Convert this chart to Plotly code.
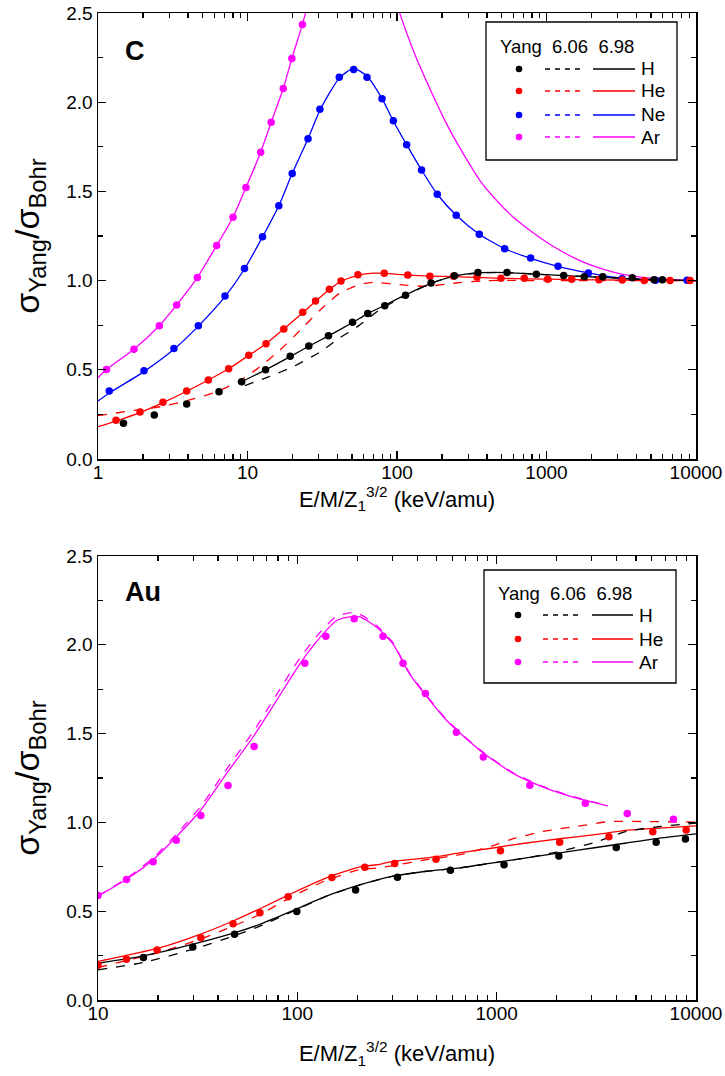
import plotly.graph_objects as go
from plotly.subplots import make_subplots

# ---------------- Panel C ----------------
C_H_pts_E = [1.48, 2.38, 3.92, 6.45, 9.14, 13.2, 19.3, 25.7, 34.8, 50.4, 63.7, 82.8, 114, 169, 242, 348, 544, 855, 1303, 1790, 2377, 3750, 5240, 5960]
C_H_pts_y = [0.20, 0.247, 0.308, 0.377, 0.433, 0.50, 0.576, 0.633, 0.691, 0.766, 0.815, 0.859, 0.918, 0.987, 1.027, 1.046, 1.046, 1.036, 1.029, 1.022, 1.022, 1.016, 1.005, 1.005]
C_H_fit_E = [9.14, 13.2, 19.3, 25.7, 34.8, 50.4, 63.7, 82.8, 114, 169, 242, 348, 544, 855, 1303, 2377, 3750, 6000, 10000]
C_H_fit_y = [0.433, 0.50, 0.574, 0.632, 0.69, 0.765, 0.815, 0.862, 0.92, 0.985, 1.025, 1.043, 1.045, 1.036, 1.028, 1.018, 1.010, 1.004, 1.0]
C_H_dash_E = [9.6, 13.4, 20.2, 30.6, 41.5, 55, 77.6, 114, 169, 242, 348, 544, 855, 1303, 2377, 3750, 6000, 10000]
C_H_dash_y = [0.412, 0.456, 0.518, 0.60, 0.68, 0.745, 0.84, 0.915, 0.985, 1.025, 1.043, 1.045, 1.036, 1.028, 1.018, 1.010, 1.004, 1.0]

C_He_pts_E = [1.32, 1.91, 2.72, 3.92, 5.47, 7.48, 10.2, 13.3, 17.5, 23.4, 28.5, 35.3, 42.2, 54.8, 82.2, 118, 166, 239, 343, 496, 710, 1018, 1475, 2244, 3213, 4508, 6700, 9120]
C_He_pts_y = [0.217, 0.263, 0.318, 0.381, 0.443, 0.506, 0.581, 0.646, 0.729, 0.822, 0.886, 0.951, 0.998, 1.033, 1.041, 1.031, 1.024, 1.025, 1.020, 1.013, 1.013, 1.007, 1.007, 1.005, 1.003, 1.001, 1.0, 1.0]
C_He_fit_E = [1, 1.32, 1.91, 2.72, 3.92, 5.47, 7.48, 10.2, 13.3, 17.5, 23.4, 28.5, 35.3, 42.2, 54.8, 70, 82.2, 118, 166, 239, 343, 496, 1018, 2244, 4508, 10000]
C_He_fit_y = [0.181, 0.213, 0.26, 0.316, 0.38, 0.443, 0.506, 0.581, 0.646, 0.729, 0.82, 0.884, 0.95, 0.996, 1.03, 1.042, 1.041, 1.031, 1.025, 1.022, 1.018, 1.013, 1.008, 1.004, 1.002, 1.0]
C_He_dash_E = [1, 1.56, 2.6, 3.92, 6.22, 8.9, 12.1, 16.5, 22.4, 30.6, 41.5, 56.5, 69, 104.7, 158, 236, 400, 1000, 10000]
C_He_dash_y = [0.243, 0.267, 0.293, 0.327, 0.377, 0.439, 0.517, 0.611, 0.72, 0.835, 0.93, 0.978, 0.99, 0.977, 0.968, 0.985, 1.0, 1.0, 1.0]

C_Ne_pts_E = [1.19, 2.03, 3.22, 4.69, 7.07, 9.55, 12.6, 16.2, 19.9, 25.4, 30.5, 41.1, 51.3, 63.0, 79.4, 94.5, 116, 146, 186, 249, 355, 525, 783, 1194, 1906, 3200, 5375, 8720]
C_Ne_pts_y = [0.381, 0.495, 0.620, 0.747, 0.914, 1.068, 1.246, 1.42, 1.60, 1.795, 1.96, 2.14, 2.184, 2.14, 2.02, 1.896, 1.762, 1.62, 1.484, 1.366, 1.26, 1.179, 1.127, 1.081, 1.043, 1.011, 1.002, 1.002]
C_Ne_fit_E = [1, 1.19, 2.03, 3.22, 4.69, 7.07, 9.55, 12.6, 16.2, 19.9, 25.4, 30.5, 41.1, 51.3, 63.0, 79.4, 94.5, 116, 146, 186, 249, 355, 525, 783, 1194, 1906, 3200, 5375, 10000]
C_Ne_fit_y = [0.325, 0.37, 0.49, 0.615, 0.745, 0.91, 1.065, 1.245, 1.42, 1.60, 1.795, 1.955, 2.135, 2.19, 2.145, 2.02, 1.895, 1.762, 1.62, 1.484, 1.366, 1.26, 1.179, 1.125, 1.08, 1.043, 1.013, 1.004, 1.0]

C_Ar_pts_E = [1.14, 1.74, 2.57, 3.36, 4.62, 6.22, 8.0, 9.77, 12.25, 14.4, 17.35, 19.8, 23.3]
C_Ar_pts_y = [0.502, 0.615, 0.747, 0.864, 1.017, 1.197, 1.355, 1.522, 1.72, 1.888, 2.077, 2.245, 2.436]
C_Ar_fit_E = [1, 1.14, 1.74, 2.57, 3.36, 4.62, 6.22, 8.0, 9.77, 12.25, 14.4, 17.35, 19.8, 23.3, 25.5,
              None,
              100, 104.7, 128.5, 166, 215, 278, 359, 464, 600, 776, 1003, 1296, 1675, 2167, 2798, 3620, 6000, 10000]
C_Ar_fit_y = [0.456, 0.502, 0.615, 0.747, 0.864, 1.017, 1.197, 1.355, 1.522, 1.72, 1.888, 2.077, 2.245, 2.436, 2.56,
              None,
              2.55, 2.495, 2.29, 2.075, 1.877, 1.71, 1.561, 1.449, 1.355, 1.281, 1.215, 1.159, 1.112, 1.075, 1.047, 1.028, 1.008, 1.0]

# ---------------- Panel Au ----------------
Au_H_pts_E = [16.9, 29.9, 48.4, 99.4, 196, 318, 586, 1089, 2051, 3981, 6310, 8850]
Au_H_pts_y = [0.239, 0.299, 0.370, 0.499, 0.619, 0.691, 0.730, 0.761, 0.811, 0.859, 0.889, 0.907]
Au_H_fit_E = [10, 16.9, 30.0, 47.7, 64.9, 95.3, 140, 205.8, 302, 444, 652, 958, 1409, 2070, 3041, 4467, 6561, 10000]
Au_H_fit_y = [0.207, 0.248, 0.314, 0.376, 0.426, 0.504, 0.585, 0.648, 0.697, 0.725, 0.744, 0.772, 0.80, 0.828, 0.856, 0.884, 0.912, 0.936]
Au_H_dash_E = [10, 16.9, 30.0, 47.7, 64.9, 95.3, 140, 205.8, 302, 444, 652, 958, 1409, 2070, 3041, 4467, 6561, 10000]
Au_H_dash_y = [0.17, 0.211, 0.286, 0.36, 0.416, 0.50, 0.585, 0.648, 0.697, 0.725, 0.744, 0.772, 0.80, 0.837, 0.884, 0.949, 0.977, 0.996]

Au_He_pts_E = [10.0, 13.9, 19.8, 32.8, 47.6, 64.9, 89.9, 149, 218, 308, 496, 1045, 2070, 3656, 6070, 8930]
Au_He_pts_y = [0.196, 0.230, 0.282, 0.351, 0.429, 0.491, 0.581, 0.69, 0.748, 0.768, 0.793, 0.84, 0.889, 0.92, 0.948, 0.958]
Au_He_fit_E = [10, 20.5, 32.5, 47.7, 64.9, 95.3, 140, 205.8, 259, 302, 444, 652, 958, 1409, 2070, 3041, 4467, 6561, 10000]
Au_He_fit_y = [0.217, 0.295, 0.37, 0.445, 0.514, 0.604, 0.688, 0.749, 0.764, 0.781, 0.80, 0.828, 0.856, 0.884, 0.908, 0.93, 0.955, 0.968, 0.981]
Au_He_dash_E = [10, 20.5, 32.5, 47.7, 64.9, 95.3, 140, 205.8, 259, 302, 444, 652, 958, 1162, 1706, 2509, 3684, 5410, 10000]
Au_He_dash_y = [0.183, 0.27, 0.342, 0.416, 0.482, 0.585, 0.674, 0.734, 0.744, 0.757, 0.79, 0.818, 0.869, 0.902, 0.949, 0.977, 1.005, 1.005, 1.002]

Au_Ar_pts_E = [10.0, 13.9, 18.9, 24.7, 32.8, 44.9, 60.7, 109, 139, 193, 269, 339, 439, 628, 857, 1466, 2785, 4520, 7710]
Au_Ar_pts_y = [0.589, 0.678, 0.779, 0.899, 1.039, 1.208, 1.428, 1.896, 2.048, 2.147, 2.048, 1.897, 1.726, 1.508, 1.369, 1.21, 1.108, 1.05, 1.018]
Au_Ar_fit_E = [10, 13.9, 18.9, 24.8, 32.8, 44.2, 60, 78.7, 103, 130, 157, 183, 206, 249, 302, 366, 560, 822, 1208, 1775, 2608, 3612]
Au_Ar_fit_y = [0.585, 0.68, 0.79, 0.921, 1.07, 1.276, 1.481, 1.687, 1.893, 2.042, 2.136, 2.158, 2.158, 2.10, 2.005, 1.835, 1.575, 1.407, 1.276, 1.192, 1.132, 1.093]
Au_Ar_dash_y = [0.585, 0.685, 0.80, 0.935, 1.09, 1.30, 1.51, 1.72, 1.925, 2.07, 2.16, 2.18, 2.172, 2.11, 2.012, 1.84, 1.58, 1.41, 1.28, 1.195, 1.135, 1.095]

BLACK, RED, BLUE, MAG = "#000000", "#FF0000", "#0000FF", "#FF00FF"
FONT = "Liberation Sans, Arial, sans-serif"

fig = make_subplots(rows=2, cols=1, vertical_spacing=0.0)
fig.update_layout(
    yaxis=dict(domain=[0.5481, 1.0]),
    yaxis2=dict(domain=[0.0, 0.4498]),
)


def curve(x, y, color, dash, row):
    fig.add_trace(go.Scatter(x=x, y=y, mode="lines", showlegend=False, connectgaps=False,
                             line=dict(color=color, width=1.3, dash=dash, shape="spline", smoothing=0.6),
                             hoverinfo="skip"), row=row, col=1)


def pts(x, y, color, row):
    fig.add_trace(go.Scatter(x=x, y=y, mode="markers", showlegend=False,
                             marker=dict(color=color, size=7.5, line=dict(width=0))), row=row, col=1)


# Panel C
curve(C_Ar_fit_E, C_Ar_fit_y, MAG, "solid", 1)
curve(C_Ne_fit_E, C_Ne_fit_y, BLUE, "solid", 1)
curve(C_He_dash_E, C_He_dash_y, RED, "dash", 1)
curve(C_He_fit_E, C_He_fit_y, RED, "solid", 1)
curve(C_H_dash_E, C_H_dash_y, BLACK, "dash", 1)
curve(C_H_fit_E, C_H_fit_y, BLACK, "solid", 1)
pts(C_Ar_pts_E, C_Ar_pts_y, MAG, 1)
pts(C_Ne_pts_E, C_Ne_pts_y, BLUE, 1)
pts(C_He_pts_E, C_He_pts_y, RED, 1)
pts(C_H_pts_E, C_H_pts_y, BLACK, 1)

# Panel Au
curve(Au_Ar_fit_E, Au_Ar_dash_y, MAG, "dash", 2)
curve(Au_Ar_fit_E, Au_Ar_fit_y, MAG, "solid", 2)
curve(Au_He_dash_E, Au_He_dash_y, RED, "dash", 2)
curve(Au_He_fit_E, Au_He_fit_y, RED, "solid", 2)
curve(Au_H_dash_E, Au_H_dash_y, BLACK, "dash", 2)
curve(Au_H_fit_E, Au_H_fit_y, BLACK, "solid", 2)
pts(Au_Ar_pts_E, Au_Ar_pts_y, MAG, 2)
pts(Au_He_pts_E, Au_He_pts_y, RED, 2)
pts(Au_H_pts_E, Au_H_pts_y, BLACK, 2)

minor_log = [m * 10 ** d for d in range(0, 4) for m in range(2, 10)]
xtitle = "E/M/Z<sub>1</sub><sup>3/2</sup> (keV/amu)"
ytitle = "σ<sub>Yang</sub>/σ<sub>Bohr</sub>"

common_axis = dict(showline=True, linewidth=1.5, linecolor="black", mirror="allticks",
                   ticks="inside", ticklen=8, tickwidth=1.3, tickcolor="black",
                   showgrid=False, zeroline=False, automargin=False,
                   tickfont=dict(family=FONT, size=19, color="black"))

for r, rng, tv, sx in [(1, [0, 4], [1, 10, 100, 1000, 10000], 0), (2, [1, 4], [10, 100, 1000, 10000], 22)]:
    fig.update_xaxes(type="log", range=rng, tickmode="array", tickvals=tv, ticktext=[str(v) for v in tv],
                     ticklabelstandoff=-4,
                     minor=dict(ticks="inside", ticklen=5, tickwidth=1.1, tickcolor="black",
                                tickmode="array", tickvals=minor_log),
                     title=dict(text=xtitle, font=dict(family=FONT, size=22, color="black"), standoff=sx),
                     row=r, col=1, **common_axis)
    fig.update_yaxes(range=[0, 2.5], tickmode="array", tickvals=[0, 0.5, 1.0, 1.5, 2.0, 2.5],
                     ticktext=["0.0", "0.5", "1.0", "1.5", "2.0", "2.5"],
                     minor=dict(ticks="inside", ticklen=5, tickwidth=1.1, tickcolor="black",
                                tickmode="array", tickvals=[0.25, 0.75, 1.25, 1.75, 2.25]),
                     title=dict(text=ytitle, font=dict(family=FONT, size=34, color="black"), standoff=16),
                     row=r, col=1, **common_axis)

# ---- legends and panel labels (pixel positions converted to paper coords) ----
L, T, W, H = 98, 13, 598, 987


def px(x):
    return (x - L) / W


def py(y):
    return (T + H - y) / H


shapes = []
annos = []


def legend(box, title_y, rows, dot_x, dash_x, solid_x, label_x):
    x0, y0, x1, y1 = box
    shapes.append(dict(type="rect", xref="paper", yref="paper", x0=px(x0), x1=px(x1), y0=py(y1), y1=py(y0),
                       line=dict(color="black", width=1.3), fillcolor="white"))
    annos.append(dict(x=px(x0 + 12), y=py(title_y), xref="paper", yref="paper", xanchor="left", yanchor="middle",
                      text="Yang&nbsp;&nbsp;6.06&nbsp;&nbsp;6.98", showarrow=False,
                      font=dict(family=FONT, size=18.5, color="black")))
    for ry, col, lab in rows:
        r = 3.3
        shapes.append(dict(type="circle", xref="paper", yref="paper", x0=px(dot_x - r), x1=px(dot_x + r),
                           y0=py(ry + r), y1=py(ry - r), fillcolor=col, line=dict(width=0)))
        shapes.append(dict(type="line", xref="paper", yref="paper", x0=px(dash_x[0]), x1=px(dash_x[1]),
                           y0=py(ry), y1=py(ry), line=dict(color=col, width=1.3, dash="5px,5px")))
        shapes.append(dict(type="line", xref="paper", yref="paper", x0=px(solid_x[0]), x1=px(solid_x[1]),
                           y0=py(ry), y1=py(ry), line=dict(color=col, width=1.3)))
        annos.append(dict(x=px(label_x), y=py(ry), xref="paper", yref="paper", xanchor="left", yanchor="middle",
                          text=lab, showarrow=False, font=dict(family=FONT, size=19, color="black")))


legend((486, 22, 677, 160), 46, [(69, BLACK, "H"), (91, RED, "He"), (115, BLUE, "Ne"), (137, MAG, "Ar")],
       519, (545, 583), (593, 635), 639)
legend((484, 570, 676, 683), 593, [(615, BLACK, "H"), (639, RED, "He"), (662, MAG, "Ar")],
       518, (543, 582), (592, 633), 637)

annos.append(dict(x=px(123), y=py(51), xref="paper", yref="paper", xanchor="left", yanchor="middle",
                  text="<b>C</b>", showarrow=False, font=dict(family=FONT, size=27, color="black")))
annos.append(dict(x=px(123), y=py(592), xref="paper", yref="paper", xanchor="left", yanchor="middle",
                  text="<b>Au</b>", showarrow=False, font=dict(family=FONT, size=27, color="black")))

fig.update_layout(width=725, height=1076, margin=dict(l=L, r=29, t=T, b=76, autoexpand=False),
                  plot_bgcolor="white", paper_bgcolor="white", showlegend=False,
                  shapes=shapes, annotations=annos, font=dict(family=FONT, color="black"))

fig.write_html("out.html", config={"displayModeBar": False, "staticPlot": True},
               post_script="document.body.style.margin='0px';document.body.style.overflow='hidden';")
